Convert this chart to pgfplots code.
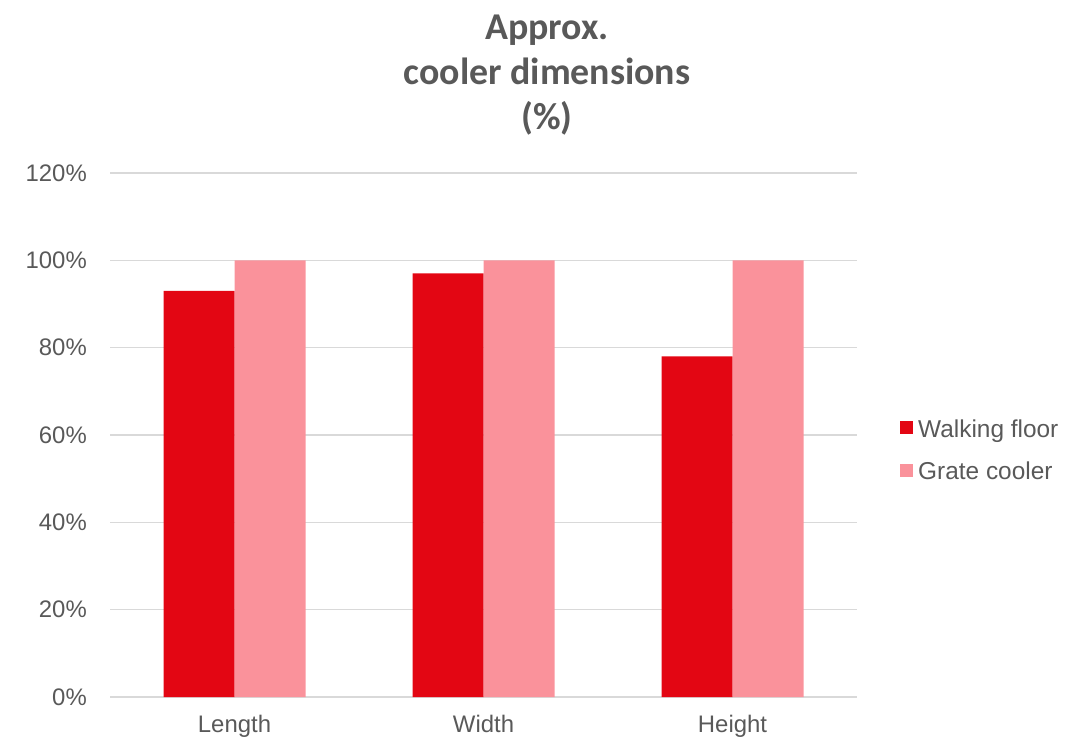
\documentclass[border=0pt]{standalone}
\usepackage{pgfplots}
\pgfplotsset{compat=1.18}
\usepackage{fontspec}
\setmainfont{Liberation Sans}
\newfontfamily\titlefont{Carlito}
\definecolor{wf}{HTML}{E30613}
\definecolor{gc}{HTML}{FA929B}
\definecolor{txt}{HTML}{595959}
\definecolor{grd}{HTML}{D9D9D9}
\begin{document}
\begin{tikzpicture}
\path[use as bounding box] (0,0) rectangle (1082bp,739bp);
\node[font=\titlefont\bfseries\fontsize{38}{45}\selectfont, text=txt, align=center, anchor=north, inner sep=0pt] at (547bp,724bp) {Approx.\\cooler dimensions\\(\%)};
\begin{axis}[
  at={(110bp,42bp)}, anchor=south west,
  scale only axis, width=747bp, height=524bp,
  ybar=0pt, bar width=71bp,
  xmin=-0.5, xmax=2.5, ymin=0, ymax=120,
  xtick={0,1,2}, xticklabels={Length,Width,Height},
  ytick={0,20,40,60,80,100,120},
  yticklabels={0\%,20\%,40\%,60\%,80\%,100\%,120\%},
  axis line style={draw=none},
  major tick length=0pt,
  ymajorgrids, grid style={grd, line width=1.3bp},
  tick label style={font=\fontsize{24}{28}\selectfont, text=txt},
  yticklabel style={anchor=east, inner sep=0pt, xshift=-23bp},
  xticklabel style={anchor=north, inner sep=0pt, yshift=-18bp},
  clip=false,
  legend style={draw=none, fill=none, inner sep=0pt, at={(1.0576,0.4704)}, anchor=west,
    font=\fontsize{24.5}{28}\selectfont, text=txt, row sep=23bp,
    nodes={inner sep=0pt}},
  legend cell align=left,
  legend image code/.code={\fill[#1] (0bp,-5bp) rectangle (13bp,8bp); \path (18bp,0bp);},
]
\addplot[fill=wf, draw=none] coordinates {(0,93) (1,97) (2,78)};
\addplot[fill=gc, draw=none] coordinates {(0,100) (1,100) (2,100)};
\legend{Walking floor, Grate cooler}
\end{axis}
\end{tikzpicture}
\end{document}
